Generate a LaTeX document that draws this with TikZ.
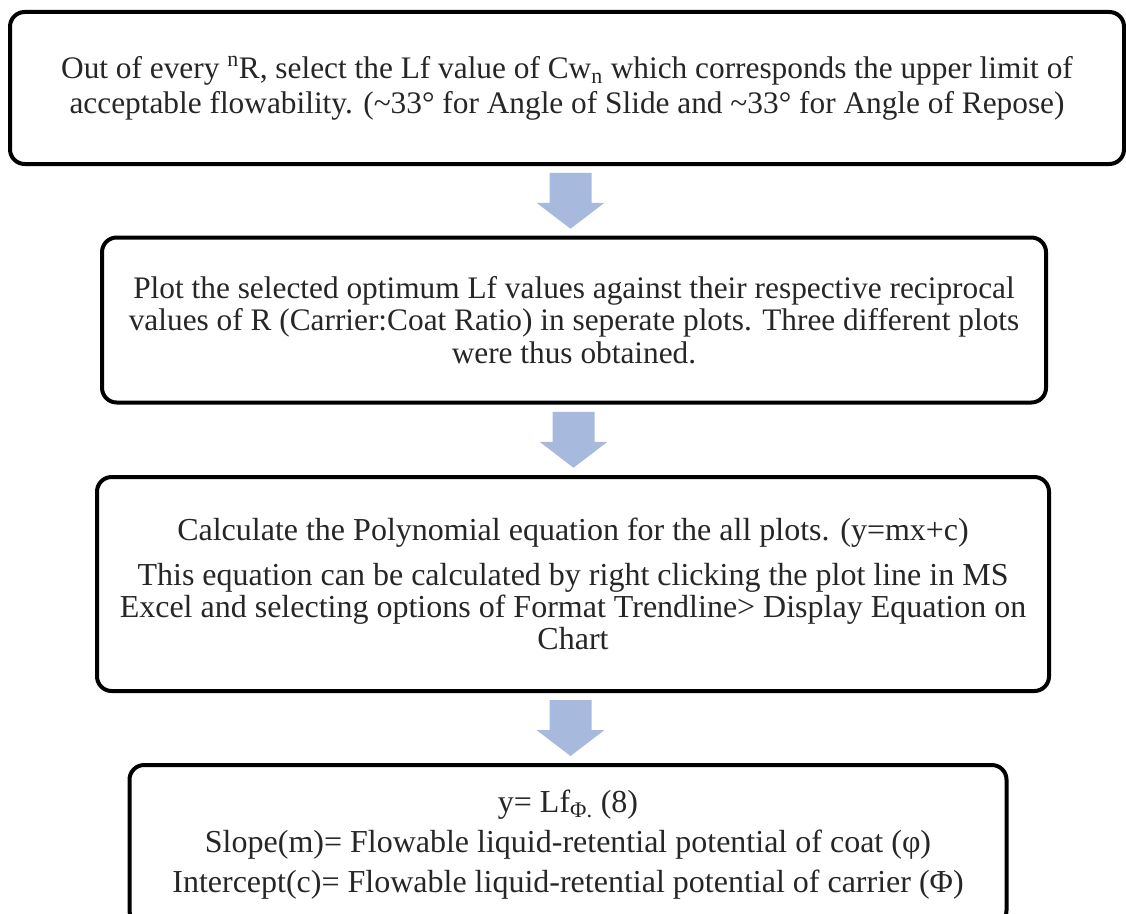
\documentclass[tikz,border=0pt]{standalone}
\usepackage{fontspec}
\setmainfont{Liberation Serif}
\usetikzlibrary{calc}

\definecolor{arrowblue}{RGB}{167,186,222}

\begin{document}
\begin{tikzpicture}[x=0.75pt, y=-0.75pt,
    stepbox/.style={draw=black, line width=3pt, rounded corners=11pt, align=center,
      text=black!85, inner sep=0pt, font=\fontsize{23.5}{24.5}\selectfont},
    flowarrow/.style={fill=arrowblue}]
    \useasboundingbox (0,0) rectangle (1126,913);

    % Boxes
    \node[stepbox, minimum width=835.5pt, minimum height=114pt,
      font=\fontsize{23.5}{26.5}\selectfont] (box1) at (567,88)
      {Out of every \textsuperscript{n}R, select the Lf value of Cw\textsubscript{n} which corresponds the upper limit of\\
       acceptable flowability. (\textasciitilde33° for Angle of Slide and \textasciitilde33° for Angle of Repose)};
    \node[stepbox, minimum width=708pt, minimum height=123.75pt] (box2) at (574,320)
      {Plot the selected optimum Lf values against their respective reciprocal\\
       values of R (Carrier:Coat Ratio) in seperate plots. Three different plots\\
       were thus obtained.};
    \node[stepbox, minimum width=714pt, minimum height=160.5pt,
      font=\fontsize{24}{24}\selectfont] (box3) at (573,584)
      {Calculate the Polynomial equation for the all plots. (y=mx+c)\\[10pt]
       This equation can be calculated by right clicking the plot line in MS\\
       Excel and selecting options of Format Trendline> Display Equation on\\
       Chart};
    \node[stepbox, minimum width=657.75pt, minimum height=120pt,
      font=\fontsize{24}{30}\selectfont] (box4) at (568,845)
      {y= Lf\textsubscript{Φ.} (8)\\
       Slope(m)= Flowable liquid-retential potential of coat (φ)\\
       Intercept(c)= Flowable liquid-retential potential of carrier (Φ)};

    % Arrows
    \foreach \a/\b in {box1/box2, box2/box3, box3/box4}
      \fill[flowarrow] ($(\a.south)!0.5!(\b.north)$) ++(-21,-28) -- ++(42,0) -- ++(0,30)
        -- ++(13,0) -- ++(-34,26) -- ++(-34,-26) -- ++(13,0) -- cycle;
\end{tikzpicture}
\end{document}
